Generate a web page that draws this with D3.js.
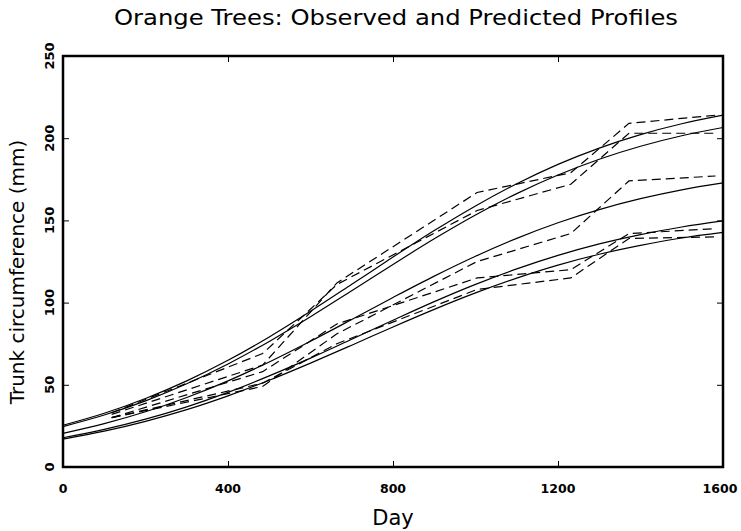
<!DOCTYPE html>
<html>
<head>
<meta charset="utf-8">
<script src="https://cdn.jsdelivr.net/npm/d3@7/dist/d3.min.js"></script>
<style>
  html, body { margin: 0; padding: 0; background: #fff; }
  svg text { font-family: "DejaVu Sans", sans-serif; fill: #000; }
</style>
</head>
<body>
<svg id="chart" width="741" height="531"></svg>
<script>
// ---- Data ----
const observedDays = [118, 484, 664, 1004, 1231, 1372, 1582];
const tree1 = [30, 58, 87, 115, 120, 142, 145];
const tree2 = [33, 69, 111, 156, 172, 203, 203];
const tree3 = [30, 51, 75, 108, 115, 139, 140];
const tree4 = [32, 62, 112, 167, 179, 209, 214];
const tree5 = [30, 49, 81, 125, 142, 174, 177];

const predDays = [0, 100, 200, 300, 400, 500, 600, 700, 800, 900, 1000, 1100, 1200, 1300, 1400, 1500, 1600];
const pred1 = [17.8, 22.9, 29.1, 36.6, 45.4, 55.4, 66.2, 77.7, 89.3, 100.6, 111.1, 120.5, 128.7, 135.7, 141.4, 146.0, 149.7];
const pred2 = [24.6, 31.6, 40.2, 50.6, 62.7, 76.4, 91.4, 107.2, 123.2, 138.8, 153.3, 166.3, 177.6, 187.2, 195.1, 201.5, 206.5];
const pred3 = [17.0, 21.8, 27.8, 34.9, 43.3, 52.8, 63.2, 74.1, 85.2, 95.9, 105.9, 114.9, 122.8, 129.4, 134.8, 139.3, 142.7];
const pred4 = [25.4, 32.7, 41.7, 52.4, 64.9, 79.1, 94.7, 111.1, 127.7, 143.8, 158.8, 172.3, 184.1, 194.0, 202.2, 208.8, 214.0];
const pred5 = [20.5, 26.4, 33.6, 42.3, 52.4, 63.9, 76.5, 89.7, 103.1, 116.1, 128.2, 139.1, 148.6, 156.6, 163.2, 168.6, 172.8];

const xTicks = [0, 400, 800, 1200, 1600];
const yTicks = [0, 50, 100, 150, 200, 250];

const titleText = "Orange Trees: Observed and Predicted Profiles";
const xLabel = "Day";
const yLabel = "Trunk circumference (mm)";

// ---- Chart ----
const svg = d3.select("#chart");
const mLeft = 63, mRight = 723, mTop = 56, mBottom = 467;

const x = d3.scaleLinear().domain([0, 1600]).range([mLeft, mRight]);
const y = d3.scaleLinear().domain([0, 250]).range([mBottom, mTop]);

const observed = [tree1, tree2, tree3, tree4, tree5];
const predicted = [pred1, pred2, pred3, pred4, pred5];

const line = d3.line().x(d => x(d[0])).y(d => y(d[1]));
const smooth = d3.line().x(d => x(d[0])).y(d => y(d[1])).curve(d3.curveMonotoneX);

const plot = svg.append("g");

observed.forEach(vals => {
  plot.append("path")
    .datum(observedDays.map((d, i) => [d, vals[i]]))
    .attr("d", line)
    .attr("fill", "none")
    .attr("stroke", "#000")
    .attr("stroke-width", 1.2)
    .attr("stroke-dasharray", "9,5");
});

predicted.forEach(vals => {
  plot.append("path")
    .datum(predDays.map((d, i) => [d, vals[i]]))
    .attr("d", smooth)
    .attr("fill", "none")
    .attr("stroke", "#000")
    .attr("stroke-width", 1.2);
});

// Axes (ticks inside)
const tickLen = 6;
svg.append("g").attr("transform", `translate(0,${mBottom})`)
  .call(d3.axisBottom(x).tickValues(xTicks).tickSize(-tickLen).tickFormat(""))
  .call(g => g.select(".domain").remove());
svg.append("g").attr("transform", `translate(0,${mTop})`)
  .call(d3.axisTop(x).tickValues(xTicks).tickSize(-tickLen).tickFormat(""))
  .call(g => g.select(".domain").remove());
svg.append("g").attr("transform", `translate(${mLeft},0)`)
  .call(d3.axisLeft(y).tickValues(yTicks).tickSize(-tickLen).tickFormat(""))
  .call(g => g.select(".domain").remove());
svg.append("g").attr("transform", `translate(${mRight},0)`)
  .call(d3.axisRight(y).tickValues(yTicks).tickSize(-tickLen).tickFormat(""))
  .call(g => g.select(".domain").remove());
svg.selectAll(".tick line").attr("stroke", "#000").attr("stroke-width", 1);

// Frame
svg.append("rect")
  .attr("x", mLeft).attr("y", mTop)
  .attr("width", mRight - mLeft).attr("height", mBottom - mTop)
  .attr("fill", "none").attr("stroke", "#000").attr("stroke-width", 2.5);

// Tick labels
svg.append("g").selectAll("text").data(xTicks).join("text")
  .attr("x", d => Math.min(x(d), 720)).attr("y", mBottom + 26)
  .attr("text-anchor", "middle")
  .attr("font-size", 12.5)
  .attr("font-weight", "bold")
  .text(d => d);

svg.append("g").selectAll("text").data(yTicks).join("text")
  .attr("transform", d => `translate(${mLeft - 9},${y(d)}) rotate(-90)`)
  .attr("text-anchor", "middle")
  .attr("font-size", 13)
  .attr("font-weight", "bold")
  .text(d => d);

// Titles
svg.append("text")
  .attr("x", 396).attr("y", 25)
  .attr("text-anchor", "middle")
  .attr("font-size", 21)
  .attr("textLength", 564)
  .attr("lengthAdjust", "spacingAndGlyphs")
  .text(titleText);

svg.append("text")
  .attr("x", 393).attr("y", 525)
  .attr("text-anchor", "middle")
  .attr("font-size", 21)
  .text(xLabel);

svg.append("text")
  .attr("transform", `translate(24,272) rotate(-90)`)
  .attr("text-anchor", "middle")
  .attr("font-size", 20)
  .text(yLabel);
</script>
</body>
</html>
